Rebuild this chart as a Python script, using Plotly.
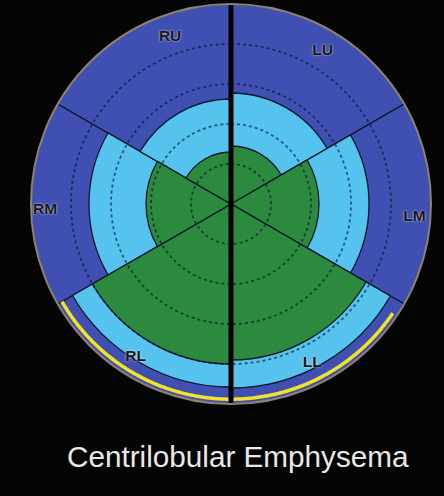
import numpy as np
import plotly.graph_objects as go

# Lung zones, clockwise from the top of the right-hand side of the plot
zones = ["LU", "LM", "LL", "RL", "RM", "RU"]
# Radial extent (fraction of the full radius) of each severity band per zone
green_extent = [0.29, 0.44, 0.78, 0.80, 0.425, 0.26]
light_extent = [0.555, 0.69, 0.92, 0.915, 0.71, 0.525]
dark_extent = [1.0, 1.0, 1.0, 1.0, 1.0, 1.0]
# Reference rings
ring_levels = [0.2, 0.4, 0.6, 0.8]
# Highlighted basal arc (degrees, clockwise from top)
highlight_start, highlight_end = 124, 240

sector_width = 360 / len(zones)
sector_theta = [sector_width / 2 + i * sector_width for i in range(len(zones))]

DARK = "#4050B2"
LIGHT = "#56C3EE"
GREEN = "#2C8A3F"
EDGE = "#0e1828"

fig = go.Figure()

for values, colour in [(dark_extent, DARK), (light_extent, LIGHT), (green_extent, GREEN)]:
    fig.add_trace(go.Barpolar(
        r=values, theta=sector_theta, width=[sector_width] * len(zones),
        marker=dict(color=colour, line=dict(color=EDGE, width=1.3)),
        hoverinfo="skip", showlegend=False,
    ))

ring_theta = np.linspace(0, 360, 721)
for level in ring_levels:
    fig.add_trace(go.Scatterpolar(
        r=[level] * len(ring_theta), theta=ring_theta, mode="lines",
        line=dict(color="rgba(5,15,35,0.6)", width=1.8, dash="dot"),
        hoverinfo="skip", showlegend=False,
    ))

arc_theta = np.linspace(highlight_start, highlight_end, 240)
fig.add_trace(go.Scatterpolar(
    r=[0.976] * len(arc_theta), theta=arc_theta, mode="lines",
    line=dict(color="#F2E422", width=3.5),
    hoverinfo="skip", showlegend=False,
))

# Midline dividing right and left lung
fig.add_trace(go.Scatterpolar(
    r=[1.02, 0, 1.01], theta=[0, 0, 180], mode="lines",
    line=dict(color="#000000", width=5), cliponaxis=False,
    hoverinfo="skip", showlegend=False,
))

label_r = [0.89, 0.92, 0.895, 0.90, 0.93, 0.89]
label_theta = [31, 94, 153, 212, 268, 340]
fig.add_trace(go.Scatterpolar(
    r=label_r, theta=label_theta, mode="text", text=zones,
    textfont=dict(family="Liberation Sans, Arial, sans-serif", size=15.5,
                  color="#151515", weight="bold",
                  shadow="0px 0px 2px #f2f2f2"),
    cliponaxis=False, hoverinfo="skip", showlegend=False,
))

fig.update_layout(
    width=444, height=496,
    margin=dict(l=0, r=0, t=0, b=0),
    paper_bgcolor="#050505",
    plot_bgcolor="#050505",
    showlegend=False,
    polar=dict(
        domain=dict(x=[31 / 444, 431 / 444], y=[92 / 496, 492 / 496]),
        bgcolor="#050505",
        barmode="overlay",
        bargap=0,
        angularaxis=dict(
            rotation=90, direction="clockwise",
            showticklabels=False, ticks="", showgrid=False,
            showline=True, linecolor="#8f8270", linewidth=2,
        ),
        radialaxis=dict(range=[0, 1], visible=False),
    ),
    annotations=[dict(
        text="Centrilobular Emphysema", x=238 / 444, y=(496 - 456) / 496,
        xref="paper", yref="paper", xanchor="center", yanchor="middle",
        showarrow=False,
        font=dict(family="Liberation Sans, Arial, sans-serif", size=29.7, color="#e8e8e8"),
    )],
)

fig.write_html("out.html")
